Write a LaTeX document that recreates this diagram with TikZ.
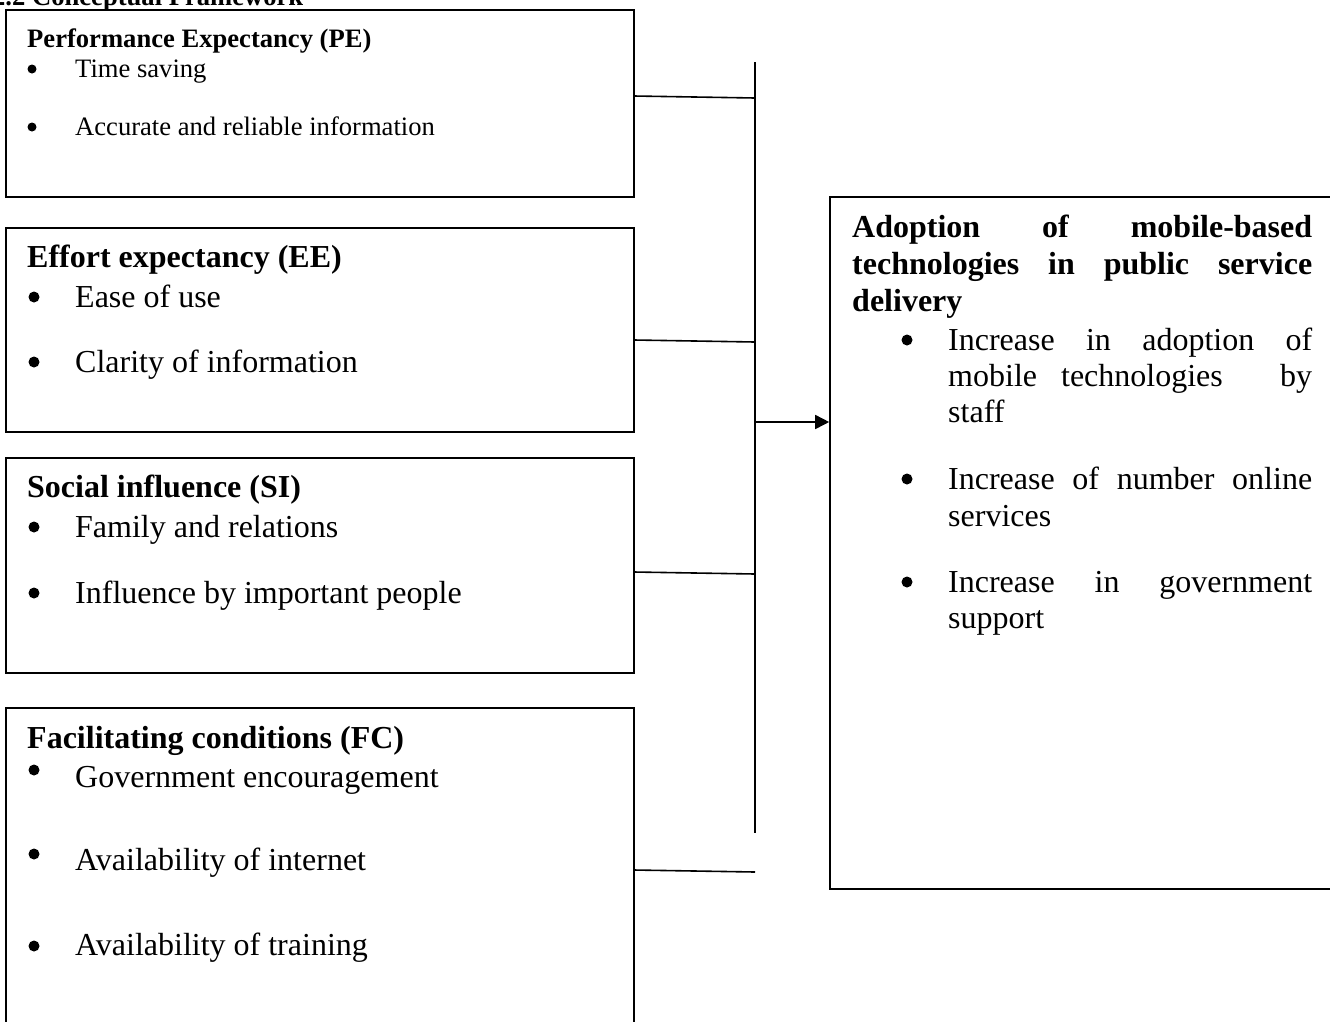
\documentclass[tikz,border=0pt]{standalone}
\usepackage{fontspec}
\setmainfont{Liberation Serif}
\usetikzlibrary{arrows.meta}

\newcommand{\fitline}[2]{\makebox[#1][s]{#2}}

\tikzset{
    box/.style={draw, line width=1.6pt, inner sep=0pt},
    head/.style={anchor=base west, inner sep=0pt, font=\fontsize{32}{37}\selectfont\bfseries},
    txt/.style={anchor=base west, inner sep=0pt, font=\fontsize{32}{37}\selectfont},
    smallhead/.style={anchor=base west, inner sep=0pt, font=\fontsize{26.6}{30}\selectfont\bfseries},
    smalltxt/.style={anchor=base west, inner sep=0pt, font=\fontsize{26.6}{30}\selectfont},
    bul/.style={circle, fill, inner sep=0pt, minimum size=11pt},
    smallbul/.style={circle, fill, inner sep=0pt, minimum size=9pt},
    link/.style={line width=1.6pt}
}

\begin{document}
\begin{tikzpicture}[x=1pt, y=-1pt]
        \clip (0,0) rectangle (1330,1021);

        \node[smallhead] (title) at (-8,5) {2.2 Conceptual Framework};

        % left boxes
        \node[box, minimum width=628pt, minimum height=187pt] (pe) at (320,103.5) {};
        \node[box, minimum width=628pt, minimum height=204pt] (ee) at (320,330) {};
        \node[box, minimum width=628pt, minimum height=215pt] (si) at (320,565.5) {};
        \node[box, minimum width=628pt, minimum height=327pt] (fc) at (320,871.5) {};

        \node[smallhead] (pehead) at (27,47) {Performance Expectancy (PE)};
        \node[smallbul] (peb1) at (32,69) {};
        \node[smalltxt] (pe1) at (75,77) {Time saving};
        \node[smallbul] (peb2) at (32,127) {};
        \node[smalltxt] (pe2) at (75,135) {Accurate and reliable information};

        \node[head] (eehead) at (27,267) {Effort expectancy (EE)};
        \node[bul] (eeb1) at (34,297) {};
        \node[txt] (ee1) at (75,307) {Ease of use};
        \node[bul] (eeb2) at (34,362) {};
        \node[txt] (ee2) at (75,372) {Clarity of information};

        \node[head] (sihead) at (27,497) {Social influence (SI)};
        \node[bul] (sib1) at (34,527) {};
        \node[txt] (si1) at (75,537) {Family and relations};
        \node[bul] (sib2) at (34,593) {};
        \node[txt] (si2) at (75,603) {Influence by important people};

        \node[head] (fchead) at (27,748) {Facilitating conditions (FC)};
        \node[bul] (fcb1) at (34,770) {};
        \node[txt] (fc1) at (75,787) {Government encouragement};
        \node[bul] (fcb2) at (34,854) {};
        \node[txt] (fc2) at (75,870) {Availability of internet};
        \node[bul] (fcb3) at (34,946) {};
        \node[txt] (fc3) at (75,955) {Availability of training};

        % right box
        \node[box, minimum width=515pt, minimum height=692pt] (adopt) at (1087.5,543) {};

        \node[head] (ad1) at (852,237) {\fitline{460pt}{Adoption of mobile-based}};
        \node[head] (ad2) at (852,274) {\fitline{460pt}{technologies in public service}};
        \node[head] (ad3) at (852,311) {delivery};

        \node[bul] (adb1) at (907,340) {};
        \node[txt] (ad4) at (948,350) {\fitline{364pt}{Increase in adoption of}};
        \node[txt] (ad5) at (948,386) {\fitline{364pt}{mobile\hspace{24pt}technologies\hfill by}};
        \node[txt] (ad6) at (948,422) {staff};
        \node[bul] (adb2) at (907,479) {};
        \node[txt] (ad7) at (948,489) {\fitline{364pt}{Increase of number online}};
        \node[txt] (ad8) at (948,526) {services};
        \node[bul] (adb3) at (907,582) {};
        \node[txt] (ad9) at (948,592) {\fitline{364pt}{Increase in government}};
        \node[txt] (ad10) at (948,628) {support};

        % connectors
        \coordinate (bartop) at (755,62);
        \coordinate (barbot) at (755,833);
        \draw[link] (bartop) -- (barbot);

        \coordinate (peout) at (634,96);
        \coordinate (pein) at (755,98);
        \coordinate (eeout) at (634,340);
        \coordinate (eein) at (755,342);
        \coordinate (siout) at (634,572);
        \coordinate (siin) at (755,574);
        \coordinate (fcout) at (634,870);
        \coordinate (fcin) at (755,872);
        \draw[link] (peout) -- (pein);
        \draw[link] (eeout) -- (eein);
        \draw[link] (siout) -- (siin);
        \draw[link] (fcout) -- (fcin);

        \coordinate (arrout) at (755,422);
        \draw[link, -{Triangle[length=14pt, width=14pt]}] (arrout) -- (adopt.west |- arrout);
    \end{tikzpicture}
\end{document}
